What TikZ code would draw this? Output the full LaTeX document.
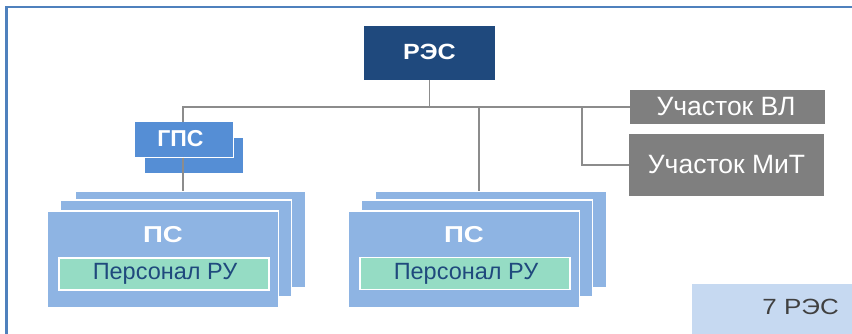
\documentclass[tikz,border=0pt]{standalone}
\usepackage{fontspec}
\setmainfont{Liberation Sans}
\definecolor{frameblue}{HTML}{4F81BD}
\definecolor{resblue}{HTML}{1F497D}
\definecolor{gpsblue}{HTML}{558ED5}
\definecolor{psblue}{HTML}{8EB4E3}
\definecolor{mint}{HTML}{95DCC4}
\definecolor{boxgray}{HTML}{7F7F7F}
\definecolor{linegray}{HTML}{8C8C8C}
\definecolor{paleblue}{HTML}{C6D9F1}
\definecolor{txtgray}{HTML}{404040}
\tikzset{
  box/.style={rectangle, inner sep=0pt, outer sep=0pt},
  resbox/.style={box, fill=resblue, minimum width=131pt, minimum height=54pt},
  restext/.style={text=white, font=\fontsize{22}{24}\selectfont\bfseries, inner sep=0pt},
  gpsbox/.style={box, fill=gpsblue, draw=white, line width=0.8pt, minimum width=99pt, minimum height=36pt},
  gpstext/.style={text=white, font=\fontsize{23}{26}\selectfont\bfseries, inner sep=0pt},
  psbox/.style={box, fill=psblue, draw=white, line width=1.2pt, minimum width=231pt, minimum height=97pt},
  pstext/.style={text=white, font=\fontsize{23}{26}\selectfont\bfseries, inner sep=0pt},
  persbox/.style={box, fill=mint, draw=white, line width=1.2pt, minimum width=210pt, minimum height=32pt},
  perstext/.style={text=resblue, font=\fontsize{23.5}{26}\selectfont, inner sep=0pt},
  grbox/.style={box, fill=boxgray, minimum width=195pt},
  grtext/.style={text=white, font=\fontsize{26.5}{28}\selectfont, inner sep=0pt},
  conn/.style={draw=linegray, line width=1.6pt},
}
\begin{document}
\begin{tikzpicture}[x=1pt,y=-1pt]
\useasboundingbox (0,0) rectangle (852,333);
\clip (0,0) rectangle (852,333);
% frame
\draw[frameblue, line width=2.2pt] (870,7) -- (6.5,7) -- (6.5,350);
% 7 RES
\node[box, fill=paleblue, minimum width=170pt, minimum height=60pt, anchor=north west] (cnt) at (692,284) {};
\node[text=txtgray, font=\fontsize{22}{24}\selectfont, anchor=east, inner sep=0pt] (cnttext) at (839,306.5) {\scalebox{1.18}[1]{7 РЭС}};
% RES
\node[resbox] (res) at (429.5,53) {};
\node[restext] (rest) at (429.5,51.5) {\scalebox{1.14}[1]{РЭС}};
% GPS
\node[gpsbox] (gpsb) at (194,155) {};
\node[gpsbox] (gps) at (183.5,139.5) {};
\node[gpstext] (gpst) at (180.5,138.5) {ГПС};
% PS left
\node[psbox] (psLc) at (190.5,239.5) {};
\node[psbox] (psLb) at (176,248.5) {};
\node[psbox] (psL) at (163,259.5) {};
\node[pstext] (psLt) at (163,235) {\scalebox{1.2}[1]{ПС}};
\node[persbox] (persL) at (164,274) {};
\node[perstext] (persLt) at (165,274) {Персонал РУ};
% PS right
\node[psbox] (psRc) at (491,239.5) {};
\node[psbox] (psRb) at (477,248.5) {};
\node[psbox] (psR) at (464,259.5) {};
\node[pstext] (psRt) at (464,235) {\scalebox{1.2}[1]{ПС}};
\node[persbox] (persR) at (465,273.5) {};
\node[perstext] (persRt) at (466,273.5) {Персонал РУ};
% sections
\node[grbox, minimum height=34pt] (vl) at (727.5,107) {};
\node[grtext] (vlt) at (726,107) {Участок ВЛ};
\node[grbox, minimum height=62pt] (mit) at (726.5,165) {};
\node[grtext] (mitt) at (726.5,165) {Участок МиТ};
% connectors
\coordinate (busL) at (183,107);
\coordinate (busR) at (479,107);
\coordinate (busM) at (582,107);
\draw[conn] (res.south) -- (res.south |- vl.west) -- (vl.west);
\draw[conn] (res.south |- vl.west) -- (busL) -- (gps.north -| busL);
\draw[conn] (busR) -- (busR |- psRc.north);
\draw[conn] (busM) |- (mit.west);
\draw[conn] (gps.south -| busL) -- (busL |- psLc.north);
\end{tikzpicture}
\end{document}
